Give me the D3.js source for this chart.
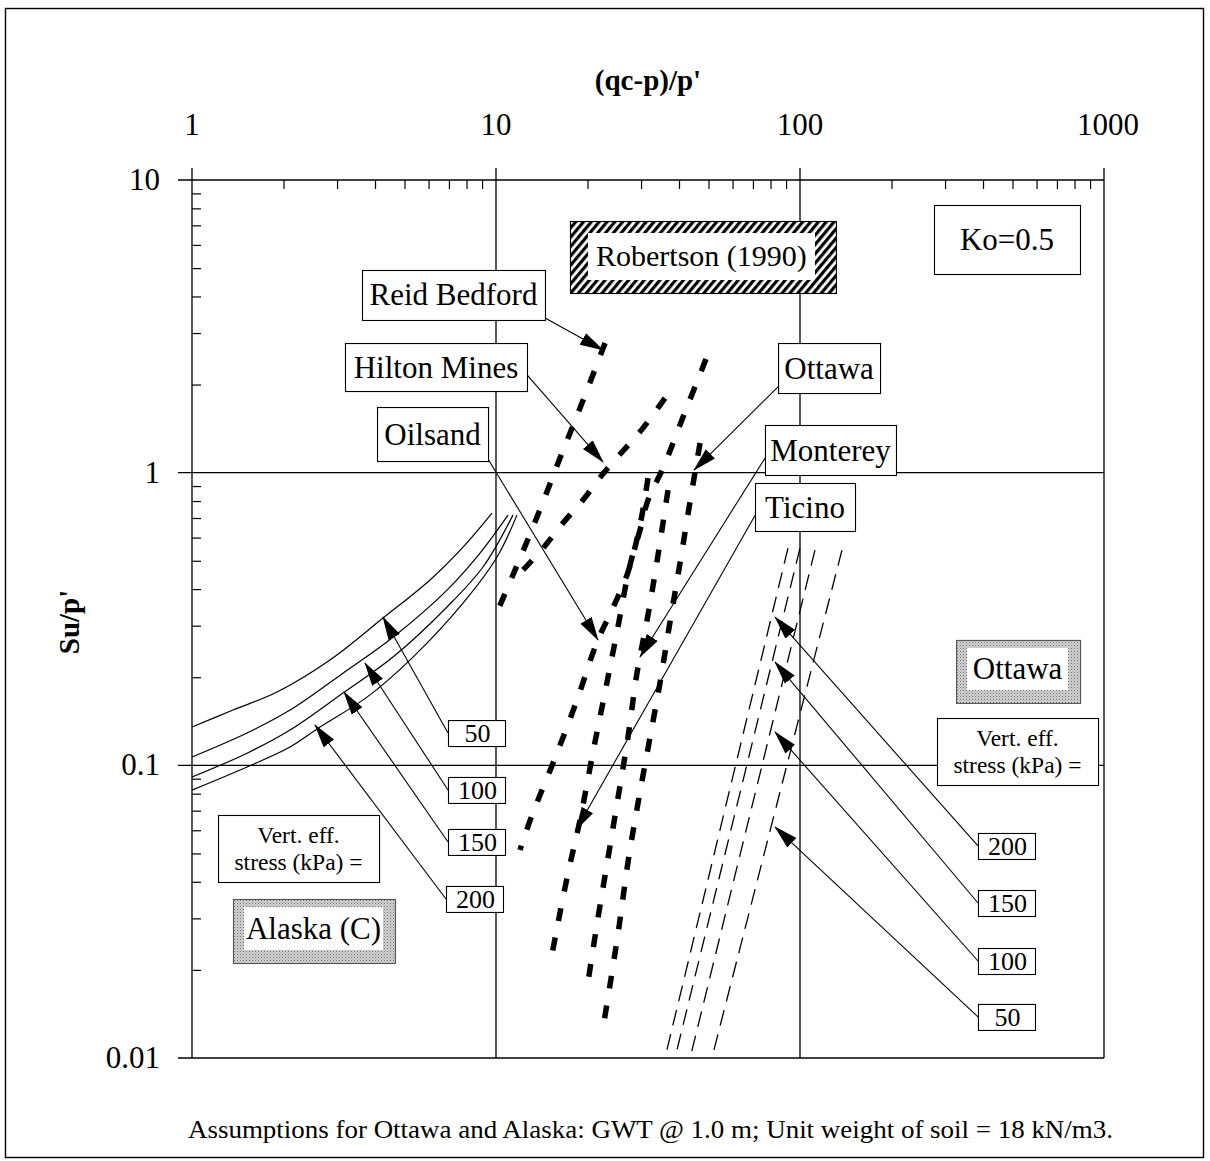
<!DOCTYPE html>
<html><head><meta charset="utf-8">
<script src="https://cdn.jsdelivr.net/npm/d3@7"></script>
<style>
body{margin:0;background:#fff}
svg{display:block}
text{font-family:"Liberation Serif","Times New Roman",serif;fill:#000}
</style>
</head><body>
<svg id="chart" width="1210" height="1161"></svg>
<script>
// ---------- axes ----------
const xMajor = [1, 10, 100, 1000];
const xMajorLabels = ["1", "10", "100", "1000"];
const yMajor = [10, 1, 0.1, 0.01];
const yMajorLabels = ["10", "1", "0.1", "0.01"];
const xTitle = "(qc-p)/p'";
const yTitle = "Su/p'";
const footnote = "Assumptions for Ottawa and Alaska: GWT @ 1.0 m; Unit weight of soil = 18 kN/m3.";

// ---------- Alaska (C) curves, by vertical effective stress ----------
const alaskaStress = ["50", "100", "150", "200"];
const alaska50X  = [1, 1.364, 1.904, 2.844, 4.249, 6.067, 7.79, 9.70];
const alaska50Y  = [0.1352, 0.1545, 0.178, 0.229, 0.3185, 0.430, 0.557, 0.728];
const alaska100X = [1, 1.517, 2.101, 3.138, 4.583, 6.90, 8.86, 10.95];
const alaska100Y = [0.1068, 0.129, 0.1545, 0.2065, 0.274, 0.397, 0.531, 0.716];
const alaska150X = [1, 1.517, 2.101, 3.138, 4.583, 6.90, 9.06, 11.37];
const alaska150Y = [0.0912, 0.110, 0.132, 0.1766, 0.2344, 0.3476, 0.476, 0.716];
const alaska200X = [1, 1.517, 2.101, 2.637, 3.764, 5.333, 7.79, 10.08, 11.72];
const alaska200Y = [0.0823, 0.0987, 0.1155, 0.1352, 0.171, 0.2344, 0.3584, 0.515, 0.716];

// ---------- Ottawa lines, by vertical effective stress ----------
const ottawaStress = ["200", "150", "100", "50"];
const ottawa200X = [91.3, 35.96];  const ottawa200Y = [0.5525, 0.01];
const ottawa150X = [100, 38.8];    const ottawa150Y = [0.5525, 0.01];
const ottawa100X = [112, 43.5];    const ottawa100Y = [0.544, 0.01];
const ottawa50X  = [137.4, 51.3];  const ottawa50Y  = [0.544, 0.01];

// ---------- Robertson (1990) sands ----------
const sandNames = ["Reid Bedford", "Hilton Mines", "Oilsand", "Ottawa", "Monterey", "Ticino"];
const reidX = [22.84, 19.18, 16.24, 13.64, 11.37, 10.15];
const reidY = [2.772, 1.729, 1.122, 0.7052, 0.447, 0.3393];
const hiltonX = [35.96, 30.44, 25.97, 22.32, 19.33, 16.61, 14.38, 12.27, 11.37];
const hiltonY = [1.798, 1.42, 1.176, 0.981, 0.806, 0.6727, 0.557, 0.4648, 0.4297];
const oilsandX = [31.62, 29.77, 27.18, 24.07, 21.49, 18.47, 15.64, 13.14, 11.99];
const oilsandY = [0.9584, 0.6622, 0.4575, 0.3393, 0.2638, 0.1672, 0.1059, 0.06766, 0.05137];
const ottawaRX = [46.9, 43.46, 40.3, 37.36, 34.63, 31.86, 29.32, 27.18, 25.38, 23.71, 22.66];
const ottawaRY = [1.262, 0.7934, 0.491, 0.3087, 0.1911, 0.1192, 0.07433, 0.04672, 0.02802, 0.01775, 0.01328];
const montereyX = [36.8, 34.12, 31.62, 29.09, 27.18, 25.19, 23.36, 21.65, 20.07];
const montereyY = [0.8718, 0.5231, 0.3262, 0.2067, 0.125, 0.07733, 0.04823, 0.03008, 0.01818];
const ticinoX = [49.07, 41.85, 35.43, 31.62, 29.77, 27.59, 25.0, 22.84, 20.85, 18.90, 17.26, 15.76, 15.05];
const ticinoY = [2.444, 1.611, 1.037, 0.806, 0.6367, 0.4834, 0.2854, 0.178, 0.111, 0.06505, 0.04287, 0.02673, 0.02078];

// ---------- annotation anchors (data coordinates) ----------
const sandBoxX = [3.624, 3.186, 4.061, 84.68, 76.7, 71.12];
const sandBoxY = [4.926, 2.773, 1.676, 2.773, 1.455, 0.9219];
const sandArrowFromX = [14.50, 12.65, 9.412, 85.96, 77.88, 72.2];
const sandArrowFromY = [3.377, 2.157, 1.1135, 1.994, 1.149, 0.7338];
const sandArrowToX = [22.49, 22.49, 21.65, 44.81, 29.77, 18.33];
const sandArrowToY = [2.625, 1.088, 0.2682, 1.021, 0.2346, 0.06014];

const alaskaBoxX = [6.952, 6.952, 6.952, 6.847];
const alaskaBoxY = [0.1428, 0.09125, 0.06062, 0.03871];
const alaskaTipX = [4.249, 3.708, 3.162, 2.539];
const alaskaTipY = [0.3212, 0.2237, 0.178, 0.1373];

const ottawaBoxX = [385.0, 385.0, 385.0, 385.0];
const ottawaBoxY = [0.05873, 0.0375, 0.02376, 0.0153];
const ottawaTipX = [82.76, 82.76, 82.76, 82.76];
const ottawaTipY = [0.3212, 0.2254, 0.13, 0.06154];

const robertsonText = "Robertson (1990)"; const robertsonPos = [17.51, 7.243];
const koText = "Ko=0.5";                 const koPos = [275.9, 8.214];
const ottawaTitle = "Ottawa";            const ottawaTitlePos = [326.1, 0.2682];
const alaskaTitle = "Alaska (C)";        const alaskaTitlePos = [1.364, 0.03494];
const stressText = ["Vert. eff.", "stress (kPa) ="];
const stressRightPos = [282.3, 0.1451];
const stressLeftPos = [1.218, 0.06766];

// ---------- drawing ----------
const svg = d3.select("#chart");
const x = d3.scaleLog().domain([1, 1000]).range([192, 1104]);
const y = d3.scaleLog().domain([0.01, 10]).range([1058, 180]);

const defs = svg.append("defs");
defs.append("marker").attr("id", "ah")
  .attr("viewBox", "0 -7 24 14").attr("refX", 23).attr("refY", 0)
  .attr("markerWidth", 24).attr("markerHeight", 14)
  .attr("markerUnits", "userSpaceOnUse").attr("orient", "auto")
  .append("path").attr("d", "M0,-6.5L24,0L0,6.5Z").attr("fill", "#000");
const hatch = defs.append("pattern").attr("id", "hatch").attr("patternUnits", "userSpaceOnUse")
  .attr("width", 6).attr("height", 6).attr("patternTransform", "rotate(40)");
hatch.append("rect").attr("width", 6).attr("height", 6).attr("fill", "#fff");
hatch.append("rect").attr("width", 3.2).attr("height", 6).attr("fill", "#000");
const stip = defs.append("pattern").attr("id", "stip").attr("patternUnits", "userSpaceOnUse")
  .attr("width", 3).attr("height", 3);
stip.append("rect").attr("width", 3).attr("height", 3).attr("fill", "#d4d4d4");
stip.append("rect").attr("width", 1).attr("height", 1).attr("fill", "#6a6a6a");
stip.append("rect").attr("x", 1.5).attr("y", 1.5).attr("width", 1).attr("height", 1).attr("fill", "#8a8a8a");

// outer frame
svg.append("rect").attr("x", 5.5).attr("y", 8.5).attr("width", 1198).attr("height", 1149)
  .attr("fill", "none").attr("stroke", "#000").attr("stroke-width", 1.4);

const X0 = x(1), X1 = x(1000), Y0 = y(0.01), Y1 = y(10);
const g = svg.append("g").attr("stroke", "#000").attr("stroke-width", 1.3);
xMajor.forEach(v => g.append("line").attr("x1", x(v)).attr("x2", x(v)).attr("y1", Y1 - 12).attr("y2", Y0));
yMajor.forEach(v => g.append("line").attr("x1", X0 - 14).attr("x2", X1).attr("y1", y(v)).attr("y2", y(v)));

const xMinor = [];
[1, 10, 100].forEach(d => { for (let k = 2; k <= 9; k++) xMinor.push(d * k); });
const yMinor = [];
[0.01, 0.1, 1].forEach(d => { for (let k = 2; k <= 9; k++) yMinor.push(+(d * k).toPrecision(3)); });
const topAxis = d3.axisTop(x).tickValues(xMinor).tickSize(-9).tickFormat("");
svg.append("g").attr("transform", `translate(0,${Y1})`).call(topAxis)
  .call(s => s.select(".domain").remove())
  .call(s => s.selectAll("line").attr("stroke", "#000").attr("stroke-width", 1.2));
const leftAxis = d3.axisLeft(y).tickValues(yMinor).tickSize(-9).tickFormat("");
svg.append("g").attr("transform", `translate(${X0},0)`).call(leftAxis)
  .call(s => s.select(".domain").remove())
  .call(s => s.selectAll("line").attr("stroke", "#000").attr("stroke-width", 1.2));

svg.append("g").selectAll("text").data(xMajor).join("text")
  .attr("x", d => x(d) + (d === 1000 ? 4 : 0)).attr("y", 135).attr("text-anchor", "middle")
  .attr("font-size", 31).text((d, i) => xMajorLabels[i]);
svg.append("g").selectAll("text").data(yMajor).join("text")
  .attr("x", 160).attr("y", d => y(d) + 10).attr("text-anchor", "end")
  .attr("font-size", 31).text((d, i) => yMajorLabels[i]);

svg.append("text").attr("x", 648).attr("y", 90).attr("text-anchor", "middle")
  .attr("font-size", 29).attr("font-weight", "bold").text(xTitle);
svg.append("text").attr("transform", "translate(79,622) rotate(-90)").attr("text-anchor", "middle")
  .attr("font-size", 29).attr("font-weight", "bold").text(yTitle);

const line = d3.line().x(d => x(d[0])).y(d => y(d[1])).curve(d3.curveCatmullRom.alpha(0.5));
const zip = (a, b) => a.map((v, i) => [v, b[i]]);

[[alaska50X, alaska50Y], [alaska100X, alaska100Y], [alaska150X, alaska150Y], [alaska200X, alaska200Y]]
  .forEach(([a, b]) => svg.append("path").attr("d", line(zip(a, b)))
    .attr("fill", "none").attr("stroke", "#000").attr("stroke-width", 1.2));

[[ottawa200X, ottawa200Y], [ottawa150X, ottawa150Y], [ottawa100X, ottawa100Y], [ottawa50X, ottawa50Y]]
  .forEach(([a, b]) => svg.append("path").attr("d", line(zip(a, b)))
    .attr("fill", "none").attr("stroke", "#000").attr("stroke-width", 1.3)
    .attr("stroke-dasharray", "16,9"));

[[reidX, reidY], [hiltonX, hiltonY], [oilsandX, oilsandY], [ottawaRX, ottawaRY], [montereyX, montereyY], [ticinoX, ticinoY]]
  .forEach(([a, b]) => svg.append("path").attr("d", line(zip(a, b)))
    .attr("fill", "none").attr("stroke", "#000").attr("stroke-width", 5.5)
    .attr("stroke-dasharray", "13,17"));

function arrow(x1, y1, x2, y2) {
  svg.append("line").attr("x1", x1).attr("y1", y1).attr("x2", x2).attr("y2", y2)
    .attr("stroke", "#000").attr("stroke-width", 1.1).attr("marker-end", "url(#ah)");
}
function box(px, py, w, h, fill) {
  svg.append("rect").attr("x", px + 0.5).attr("y", py + 0.5).attr("width", w).attr("height", h)
    .attr("fill", fill || "#fff").attr("stroke", "#000").attr("stroke-width", 1.1);
}

const sandW = [183, 182, 111, 102, 131, 100];
const sandH = [50, 48, 54, 50, 50, 48];
sandNames.forEach((t, i) => {
  arrow(x(sandArrowFromX[i]), y(sandArrowFromY[i]), x(sandArrowToX[i]), y(sandArrowToY[i]));
  const px = x(sandBoxX[i]), py = y(sandBoxY[i]);
  box(px, py, sandW[i], sandH[i]);
  svg.append("text").attr("x", px + sandW[i] / 2).attr("y", py + sandH[i] / 2 + 10.5)
    .attr("text-anchor", "middle").attr("font-size", 31).text(t);
});

function stressBox(t, bx, by, tx, ty) {
  const px = x(bx), py = y(by), w = 57, h = 26;
  arrow(px, py + h / 2, x(tx), y(ty));
  box(px, py, w, h);
  svg.append("text").attr("x", px + w / 2 + 1).attr("y", py + h / 2 + 9)
    .attr("text-anchor", "middle").attr("font-size", 26).text(t);
}
alaskaStress.forEach((t, i) => stressBox(t, alaskaBoxX[i], alaskaBoxY[i], alaskaTipX[i], alaskaTipY[i]));
ottawaStress.forEach((t, i) => stressBox(t, ottawaBoxX[i], ottawaBoxY[i], ottawaTipX[i], ottawaTipY[i]));

{
  const px = x(robertsonPos[0]), py = y(robertsonPos[1]), w = 266, h = 72;
  box(px, py, w, h, "url(#hatch)");
  svg.append("rect").attr("x", px + 18).attr("y", py + 12).attr("width", w - 39).attr("height", h - 25).attr("fill", "#fff");
  svg.append("text").attr("x", px + 18 + (w - 39) / 2).attr("y", py + 12 + (h - 25) / 2 + 10)
    .attr("text-anchor", "middle").attr("font-size", 30).text(robertsonText);
}
{
  const px = x(koPos[0]), py = y(koPos[1]), w = 146, h = 69;
  box(px, py, w, h);
  svg.append("text").attr("x", px + w / 2).attr("y", py + h / 2 + 10.5)
    .attr("text-anchor", "middle").attr("font-size", 31).text(koText);
}
function stipBox(t, pos, w, h) {
  const px = x(pos[0]), py = y(pos[1]);
  svg.append("rect").attr("x", px + 0.5).attr("y", py + 0.5).attr("width", w).attr("height", h)
    .attr("fill", "url(#stip)").attr("stroke", "#555").attr("stroke-width", 1.1);
  svg.append("rect").attr("x", px + 11).attr("y", py + 8).attr("width", w - 23).attr("height", h - 21).attr("fill", "#fff");
  svg.append("text").attr("x", px + 11 + (w - 23) / 2).attr("y", py + 8 + (h - 21) / 2 + 10.5)
    .attr("text-anchor", "middle").attr("font-size", 31).text(t);
}
stipBox(ottawaTitle, ottawaTitlePos, 124, 63);
stipBox(alaskaTitle, alaskaTitlePos, 162, 64);

function stressCaption(pos) {
  const px = x(pos[0]), py = y(pos[1]), w = 161, h = 67;
  box(px, py, w, h);
  stressText.forEach((t, i) => svg.append("text").attr("x", px + w / 2).attr("y", py + 28 + i * 27)
    .attr("text-anchor", "middle").attr("font-size", 23.5).text(t));
}
stressCaption(stressRightPos);
stressCaption(stressLeftPos);

svg.append("text").attr("x", 188).attr("y", 1138).attr("font-size", 25)
  .attr("textLength", 925).attr("lengthAdjust", "spacingAndGlyphs").text(footnote);
</script>
</body></html>
